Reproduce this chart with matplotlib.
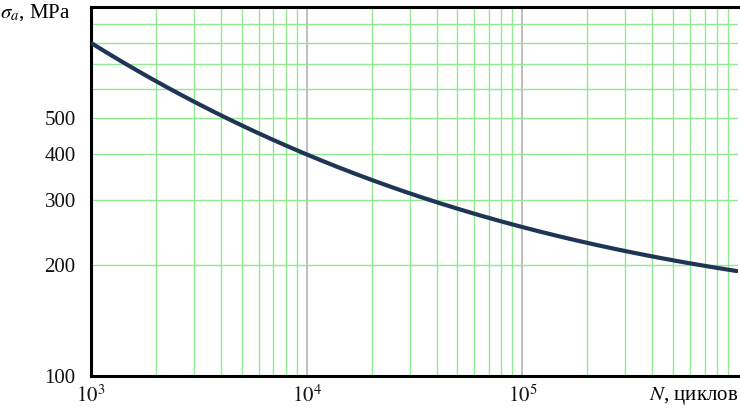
import matplotlib
matplotlib.use("Agg")
import matplotlib.pyplot as plt
import numpy as np

# Data (cycles N, stress amplitude in MPa)
cycles = [1e3, 2e3, 3e3, 4e3, 5e3, 1e4, 2e4, 3e4, 4e4, 1e5, 2e5, 3e5, 4e5, 6e5, 1e6]
stress = [795, 635, 553, 511, 474, 404, 338, 310, 295, 254, 229.5, 218, 212, 203, 191]

y_ticks = [100, 200, 300, 400, 500]
y_tick_labels = ["100", "200", "300", "400", "500"]
x_ticks = [1e3, 1e4, 1e5]
x_tick_labels = [r"$10^3$", r"$10^4$", r"$10^5$"]

plt.rcParams['font.family'] = ['Liberation Serif', 'DejaVu Serif']
plt.rcParams['mathtext.fontset'] = 'stix'

fig = plt.figure(figsize=(7.4, 4.08), dpi=100)
ax = fig.add_axes([91/740, 1-376/408, (738-91)/740, (376-7)/408])

ax.set_xscale('log')
ax.set_yscale('log')
ax.set_xlim(1e3, 1e6)
ax.set_ylim(100, 1000)

# grid
green = '#93e993'
for dec in [1e3, 1e4, 1e5]:
    for m in range(2, 10):
        ax.axvline(dec*m, color=green, lw=1.0, zorder=1)
for v in [1e4, 1e5]:
    ax.axvline(v, color='#b4b4b4', lw=1.2, zorder=1)
for h in range(200, 1000, 100):
    ax.axhline(h, color=green, lw=1.0, zorder=1)

# smooth curve through read points (in log space)
lx = np.log10(cycles)
ly = np.log10(stress)
coef = np.polyfit(lx, ly, 3)
xs = np.linspace(lx[0], lx[-1], 300)
ax.plot(10**xs, 10**np.polyval(coef, xs), color='#1f3556', lw=3.0, zorder=3,
        solid_capstyle='butt')

ax.set_yticks(y_ticks)
ax.set_yticklabels(y_tick_labels)
ax.set_xticks(x_ticks)
ax.set_xticklabels(x_tick_labels)
ax.yaxis.set_minor_locator(matplotlib.ticker.NullLocator())
ax.xaxis.set_minor_locator(matplotlib.ticker.NullLocator())
ax.tick_params(axis='both', length=0, labelsize=15, colors='#111111')
ax.tick_params(axis='y', pad=11)
ax.tick_params(axis='x', pad=7)
for lbl in ax.get_yticklabels():
    lbl.set_verticalalignment('center_baseline')

for s in ['left', 'top', 'bottom']:
    ax.spines[s].set_linewidth(2.2)
    ax.spines[s].set_color('black')
ax.spines['right'].set_visible(False)

fig.text(0/740, 1-13/408, r"$\sigma_a$, MPa", fontsize=15, ha='left', va='center')
fig.text(738/740, 1-396/408, r"$N$, циклов", fontsize=15, ha='right', va='center')

fig.savefig("out.png", dpi=100)
